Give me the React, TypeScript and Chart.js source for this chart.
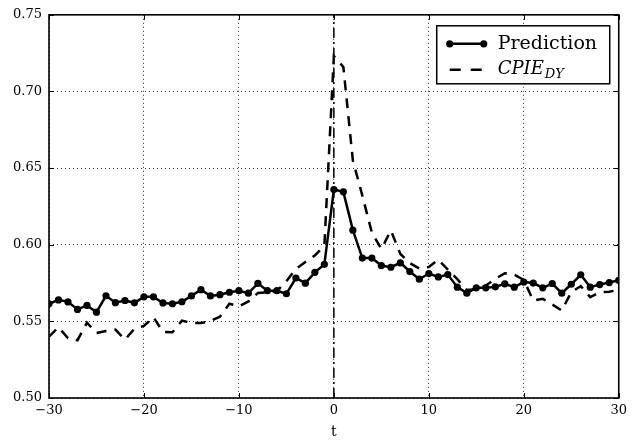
import React, { useEffect, useRef } from "react";
import { Chart, registerables } from "chart.js";

Chart.register(...registerables);

// ---- data ----
const tValues = [
  -30, -29, -28, -27, -26, -25, -24, -23, -22, -21,
  -20, -19, -18, -17, -16, -15, -14, -13, -12, -11,
  -10, -9, -8, -7, -6, -5, -4, -3, -2, -1,
  0, 1, 2, 3, 4, 5, 6, 7, 8, 9,
  10, 11, 12, 13, 14, 15, 16, 17, 18, 19,
  20, 21, 22, 23, 24, 25, 26, 27, 28, 29, 30,
];

const predictionValues = [
  0.5615, 0.564, 0.5627, 0.5578, 0.5604, 0.556, 0.5667, 0.5622, 0.5636, 0.5621,
  0.566, 0.566, 0.562, 0.5615, 0.5628, 0.5666, 0.5707, 0.5666, 0.5674, 0.569,
  0.57, 0.5684, 0.5748, 0.57, 0.57, 0.568, 0.5783, 0.5749, 0.582, 0.5872,
  0.636, 0.6345, 0.6095, 0.5913, 0.5913, 0.5864, 0.5853, 0.5882, 0.5825, 0.5775,
  0.5812, 0.579, 0.5805, 0.5723, 0.5684, 0.5719, 0.5719, 0.5725, 0.5745, 0.5723,
  0.5756, 0.575, 0.5719, 0.5747, 0.5684, 0.5742, 0.5804, 0.5723, 0.574, 0.5753, 0.5768,
];

const cpieValues = [
  0.54, 0.5462, 0.539, 0.5377, 0.5492, 0.5424, 0.5437, 0.5446, 0.5381, 0.5452,
  0.547, 0.5528, 0.5431, 0.5429, 0.5505, 0.5489, 0.5489, 0.5502, 0.553, 0.5615,
  0.5598, 0.563, 0.5685, 0.569, 0.5697, 0.5762, 0.5842, 0.5887, 0.593, 0.5994,
  0.723, 0.716, 0.655, 0.632, 0.608, 0.5972, 0.6093, 0.594, 0.588, 0.5845,
  0.5855, 0.5903, 0.5838, 0.5775, 0.5705, 0.571, 0.5734, 0.5777, 0.5814, 0.5805,
  0.577, 0.5636, 0.5647, 0.561, 0.5571, 0.569, 0.573, 0.5658, 0.569, 0.5693, 0.5706,
];

const eventT = [0, 0];
const eventY = [0.5, 0.75];

const xTickValues = [-30, -20, -10, 0, 10, 20, 30];
const yTickValues = [0.5, 0.55, 0.6, 0.65, 0.7, 0.75];

const xAxisTitle = "t";
const legendPrediction = "Prediction";
const legendCpieMain = "CPIE";
const legendCpieSub = "DY";

const FONT = "'DejaVu Serif', serif";

function formatX(v: number): string {
  return v < 0 ? "\u2212" + Math.abs(v) : String(v);
}

const framePlugin = {
  id: "frameAndLegend",
  afterDraw(chart: any) {
    const { ctx, chartArea, scales } = chart;
    const { left, right, top, bottom } = chartArea;
    const xs = scales.x;
    const ys = scales.y;
    ctx.save();
    // inward ticks on all four sides
    ctx.strokeStyle = "#000";
    ctx.lineWidth = 1;
    ctx.setLineDash([]);
    ctx.beginPath();
    const tl = 5;
    xTickValues.forEach((v) => {
      const px = Math.round(xs.getPixelForValue(v)) + 0.5;
      ctx.moveTo(px, bottom);
      ctx.lineTo(px, bottom - tl);
      ctx.moveTo(px, top);
      ctx.lineTo(px, top + tl);
    });
    yTickValues.forEach((v) => {
      const py = Math.round(ys.getPixelForValue(v)) + 0.5;
      ctx.moveTo(left, py);
      ctx.lineTo(left + tl, py);
      ctx.moveTo(right, py);
      ctx.lineTo(right - tl, py);
    });
    ctx.stroke();
    // frame
    ctx.lineWidth = 1.6;
    ctx.strokeRect(left, top, right - left, bottom - top);

    // legend
    const bx = right - 182;
    const by = top + 11;
    const bw = 173;
    const bh = 58;
    ctx.fillStyle = "#fff";
    ctx.fillRect(bx, by, bw, bh);
    ctx.lineWidth = 1.5;
    ctx.strokeRect(bx, by, bw, bh);

    const lx0 = bx + 13;
    const lx1 = bx + 47;
    const r1 = by + 18;
    const r2 = by + 44;
    // row 1
    ctx.lineWidth = 2.5;
    ctx.beginPath();
    ctx.moveTo(lx0, r1);
    ctx.lineTo(lx1, r1);
    ctx.stroke();
    ctx.fillStyle = "#000";
    [lx0, lx1].forEach((px) => {
      ctx.beginPath();
      ctx.arc(px, r1, 3.6, 0, Math.PI * 2);
      ctx.fill();
    });
    // row 2
    ctx.setLineDash([11, 10]);
    ctx.beginPath();
    ctx.moveTo(lx0, r2);
    ctx.lineTo(lx1, r2);
    ctx.stroke();
    ctx.setLineDash([]);

    const tx = bx + 61;
    ctx.textBaseline = "middle";
    ctx.textAlign = "left";
    ctx.font = `19px ${FONT}`;
    ctx.fillText(legendPrediction, tx, r1);
    ctx.font = `italic 18px ${FONT}`;
    ctx.fillText(legendCpieMain, tx, r2);
    const w = ctx.measureText(legendCpieMain).width;
    ctx.font = `italic 13px ${FONT}`;
    ctx.fillText(legendCpieSub, tx + w + 1, r2 + 5);
    ctx.restore();
  },
};

export default function App() {
  const canvasRef = useRef<HTMLCanvasElement | null>(null);

  useEffect(() => {
    document.body.style.margin = "0";
    const canvas = canvasRef.current;
    if (!canvas) return;

    const predictionData = tValues.map((t, i) => ({ x: t, y: predictionValues[i] }));
    const cpieData = tValues.map((t, i) => ({ x: t, y: cpieValues[i] }));
    const eventData = eventT.map((t, i) => ({ x: t, y: eventY[i] }));

    const chart = new Chart(canvas, {
      type: "line",
      data: {
        datasets: [
          {
            label: legendCpieMain + "_" + legendCpieSub,
            data: cpieData,
            borderColor: "#000",
            borderWidth: 2.5,
            borderDash: [10, 8],
            pointRadius: 0,
            tension: 0,
            fill: false,
            order: 0,
            clip: 0,
          },
          {
            label: legendPrediction,
            data: predictionData,
            borderColor: "#000",
            backgroundColor: "#000",
            borderWidth: 2.5,
            pointRadius: 3.6,
            pointBackgroundColor: "#000",
            pointBorderColor: "#000",
            pointBorderWidth: 0,
            tension: 0,
            fill: false,
            order: 1,
            clip: 0,
          },
          {
            label: "event",
            data: eventData,
            borderColor: "#000",
            borderWidth: 1.5,
            borderDash: [10, 4, 2, 4],
            pointRadius: 0,
            fill: false,
            order: 2,
            clip: 0,
          },
        ],
      },
      options: {
        responsive: false,
        animation: false,
        devicePixelRatio: 1,
        layout: { padding: { top: 13, right: 11, left: 0, bottom: 0 } },
        plugins: {
          legend: { display: false },
          tooltip: { enabled: false },
        },
        events: [],
        scales: {
          x: {
            type: "linear",
            min: -30,
            max: 30,
            afterBuildTicks: (scale: any) => {
              scale.ticks = xTickValues.map((v) => ({ value: v }));
            },
            afterFit: (scale: any) => {
              scale.height = 45;
            },
            ticks: {
              color: "#000",
              font: { family: FONT, size: 13 },
              padding: 5,
              maxRotation: 0,
              autoSkip: false,
              callback: (v: any) => formatX(Number(v)),
            },
            grid: {
              color: "#000",
              lineWidth: 0.8,
              drawTicks: false,
            },
            border: { display: false, dash: [1, 3] },
            title: {
              display: true,
              text: xAxisTitle,
              color: "#000",
              font: { family: FONT, size: 14 },
              padding: { top: 0, bottom: 2 },
            },
          },
          y: {
            type: "linear",
            min: 0.5,
            max: 0.75,
            afterBuildTicks: (scale: any) => {
              scale.ticks = yTickValues.map((v) => ({ value: v }));
            },
            afterFit: (scale: any) => {
              scale.width = 49;
            },
            ticks: {
              color: "#000",
              font: { family: FONT, size: 13 },
              padding: 7,
              autoSkip: false,
              callback: (v: any) => Number(v).toFixed(2),
            },
            grid: {
              color: "#000",
              lineWidth: 0.8,
              drawTicks: false,
            },
            border: { display: false, dash: [1, 3] },
          },
        },
      },
      plugins: [framePlugin],
    } as any);

    return () => {
      chart.destroy();
    };
  }, []);

  return (
    <div style={{ position: "absolute", left: 0, top: 0, width: 632, height: 443, background: "#fff" }}>
      <canvas ref={canvasRef} width={632} height={443} style={{ display: "block" }} />
    </div>
  );
}
